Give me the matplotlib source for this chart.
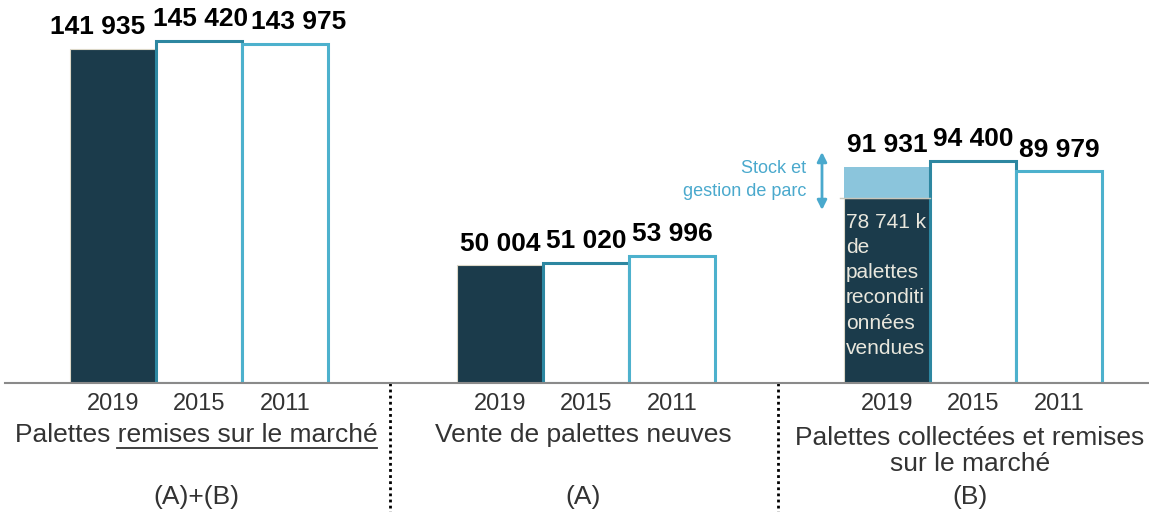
import matplotlib.pyplot as plt
from matplotlib.lines import Line2D
from matplotlib.transforms import blended_transform_factory

plt.rcParams['font.family'] = ['Liberation Sans', 'DejaVu Sans']

years = ['2019', '2015', '2011']
group_labels = ['Palettes remises sur le marché',
                'Vente de palettes neuves',
                'Palettes collectées et remises\nsur le marché']
group_codes = ['(A)+(B)', '(A)', '(B)']
remises = [141935, 145420, 143975]
neuves = [50004, 51020, 53996]
collectees = [91931, 94400, 89979]
reconditionnees_2019 = 78741
series = [remises, neuves, collectees]

dark = '#1b3b4b'
edge_colors = [None, '#2d87a1', '#4db1cd']
light = '#8bc5dc'
stock_col = '#4aa9cd'
txt_col = '#333333'

fig = plt.figure(figsize=(11.49, 5.12), dpi=100)
W, H = 1149, 512
ax = fig.add_axes([5 / W, 129 / H, 1144 / W, 383 / H])
ax.set_xlim(-0.5013, -0.5013 + 1144 / 387)
ax.set_ylim(0, 162757)
bw = 86 / 387

for s in ['top', 'left', 'right']:
    ax.spines[s].set_visible(False)
ax.spines['bottom'].set_color('#8a8a8a')
ax.spines['bottom'].set_linewidth(1.5)
ax.spines['bottom'].set_zorder(3)
ax.set_yticks([])

label_dx = [[-15, 2, 14], [0, 0, 0], [0, 0, 0]]
xpos = []
for g, vals in enumerate(series):
    for i, v in enumerate(vals):
        x = g + (i - 1) * bw
        xpos.append(x)
        if i == 0:
            if g == 2:
                ax.bar(x, reconditionnees_2019, bw, color=dark, edgecolor='#dcd8c8', linewidth=0.8)
                ax.bar(x, v - reconditionnees_2019, bw, bottom=reconditionnees_2019, color=light)
                ax.plot([x - bw / 2 - 0.01, x + bw / 2], [reconditionnees_2019] * 2,
                        color='#c9c6bb', lw=1)
            else:
                ax.bar(x, v, bw, color=dark, edgecolor='#dcd8c8', linewidth=0.8)
        else:
            ax.bar(x, v, bw, facecolor='white', edgecolor=edge_colors[i], linewidth=2.2)
        ax.annotate(f"{v:,}".replace(',', ' '), (x, v), xytext=(label_dx[g][i] * 0.72, 7),
                    textcoords='offset points', ha='center', va='bottom',
                    fontsize=19, fontweight='bold', color='black')

ax.set_xticks(xpos, labels=years * 3)
ax.tick_params(axis='x', length=0, pad=7, labelsize=17, labelcolor=txt_col)

bt = blended_transform_factory(ax.transData, ax.transAxes)
glabels = []
for g in range(3):
    yc = -0.135 if g < 2 else -0.178
    t = ax.text(g - 0.008, yc, group_labels[g], transform=bt, ha='center', va='center',
                fontsize=19, color=txt_col, linespacing=1.13)
    glabels.append(t)
    ax.text(g - 0.008, -0.298, group_codes[g], transform=bt, ha='center', va='center',
            fontsize=19, color=txt_col)

for xs in [0.494, 1.496]:
    ax.plot([xs, xs], [0, -0.34], transform=bt, ls=(0, (1, 1.2)), color='black',
            lw=2, clip_on=False)

# in-bar text of the stacked bar
x19 = 2 - bw
ax.annotate('78 741 k\nde\npalettes\nreconditi\nonnées\nvendues',
            (x19 - bw / 2, reconditionnees_2019), xytext=(1.2, -11), textcoords='offset points',
            ha='left', va='top', fontsize=15, color='#e9e7dd', linespacing=1.41)

# stock annotation
ax.text(1.5685, 86300, 'Stock et\ngestion de parc', ha='right', va='center',
        fontsize=13, color=stock_col, linespacing=1.45)
ax.annotate('', xy=(1.6098, 98164), xytext=(1.6098, 73517),
            arrowprops=dict(arrowstyle='<|-|>', color=stock_col, lw=2, mutation_scale=14,
                            shrinkA=0, shrinkB=0))

# underline part of the first group label
fig.canvas.draw()
r = fig.canvas.get_renderer()
bb = glabels[0].get_window_extent(r)
tmp = ax.text(0, 0, 'remises sur le marché', fontsize=19)
wpart = tmp.get_window_extent(r).width
tmp.remove()
yl = (512 - 448) / H
fig.add_artist(Line2D([(bb.x1 - wpart) / W, bb.x1 / W], [yl, yl], transform=fig.transFigure,
                      color=txt_col, lw=1.3))

fig.savefig('out.png', dpi=100)
